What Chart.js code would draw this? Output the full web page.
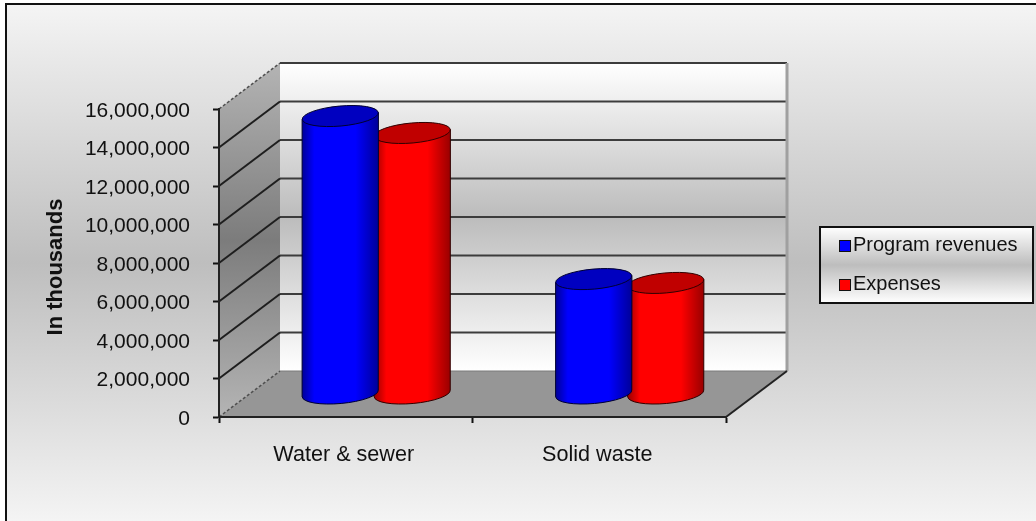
<!DOCTYPE html>
<html>
<head>
<meta charset="utf-8">
<title>Program revenues and expenses</title>
<script src="https://cdn.jsdelivr.net/npm/chart.js@4"></script>
<style>
  html, body { margin: 0; padding: 0; background: #fff; }
  canvas { display: block; }
</style>
</head>
<body>
<canvas id="chart" width="1036" height="521"></canvas>
<script>
const categories = ['Water & sewer', 'Solid waste'];
const programRevenues = [14440000, 5970000];
const expenses = [13560000, 5770000];
const seriesColors = ['#0000ff', '#ff0000'];
const seriesDark = ['#000098', '#980000'];
const seriesTop = ['#0000c0', '#c00000'];
const seriesOutline = ['#000030', '#300000'];

// depth of the box behind the front plane
const depthX = 61;
const depthY = 46;
const textFont = 'Liberation Sans, Arial, sans-serif';

function frontToBack(x, y) {
    return [x + depthX, y - depthY];
}

function line(ctx, x1, y1, x2, y2, color, width) {
    ctx.strokeStyle = color;
    ctx.lineWidth = width;
    ctx.beginPath();
    ctx.moveTo(x1, y1);
    ctx.lineTo(x2, y2);
    ctx.stroke();
}

function greyBands(ctx, top, bottom, edge, middle) {
    const g = ctx.createLinearGradient(0, top, 0, bottom);
    g.addColorStop(0, edge);
    g.addColorStop(0.5, middle);
    g.addColorStop(1, edge);
    return g;
}

// bars drawn as upright cylinders, halfway into the depth of the box
class CylinderController extends Chart.BarController {
    draw() {
        const ctx = this.chart.ctx;
        const index = this.index;
        this.getMeta().data.forEach(function (bar) {
            const cx = bar.x + depthX / 2;
            const topY = bar.y - depthY / 2;
            const baseY = bar.base - depthY / 2;
            const rx = bar.width / 2;
            const ry = 10;
            const tilt = -0.09;
            const dy = Math.sin(tilt) * rx;

            ctx.save();
            const side = ctx.createLinearGradient(cx - rx, 0, cx + rx, 0);
            side.addColorStop(0, seriesDark[index]);
            side.addColorStop(0.16, seriesColors[index]);
            side.addColorStop(0.7, seriesColors[index]);
            side.addColorStop(1, seriesDark[index]);
            ctx.fillStyle = side;
            ctx.strokeStyle = seriesOutline[index];
            ctx.lineWidth = 1;
            ctx.beginPath();
            ctx.moveTo(cx - rx, topY - dy);
            ctx.lineTo(cx - rx, baseY - dy);
            ctx.ellipse(cx, baseY, rx, ry, tilt, Math.PI, 0, true);
            ctx.lineTo(cx + rx, topY + dy);
            ctx.closePath();
            ctx.fill();
            ctx.stroke();
            ctx.fillStyle = seriesTop[index];
            ctx.beginPath();
            ctx.ellipse(cx, topY, rx, ry, tilt, 0, Math.PI * 2);
            ctx.fill();
            ctx.stroke();
            ctx.restore();
        });
    }
}
CylinderController.id = 'cylinder';
CylinderController.defaults = Chart.BarController.defaults;
CylinderController.overrides = Chart.BarController.overrides;
Chart.register(CylinderController);

const boxPlugin = {
    id: 'box',
    beforeDraw(chart) {
        const ctx = chart.ctx;
        const xs = chart.scales.x;
        const ys = chart.scales.y;
        const left = xs.left, right = xs.right;
        const top = ys.top, bottom = ys.bottom;

        ctx.save();
        // page background and frame
        ctx.fillStyle = '#fff';
        ctx.fillRect(0, 0, chart.width, chart.height);
        ctx.fillStyle = greyBands(ctx, 5, 521, '#f4f4f4', '#bebebe');
        ctx.fillRect(6, 5, chart.width - 6, chart.height - 5);
        ctx.fillStyle = '#111';
        ctx.fillRect(5, 3, chart.width - 5, 2);
        ctx.fillRect(5, 3, 2, chart.height - 3);

        const [backLeft, backTop] = frontToBack(left, top);
        const [backRight, backBottom] = frontToBack(right, bottom);

        // back wall
        ctx.fillStyle = greyBands(ctx, backTop, backBottom, '#ffffff', '#bcbcbc');
        ctx.fillRect(backLeft, backTop, backRight - backLeft, backBottom - backTop);

        // side wall
        ctx.fillStyle = greyBands(ctx, top - depthY, bottom, '#b4b4b4', '#7c7c7c');
        ctx.beginPath();
        ctx.moveTo(left, top);
        ctx.lineTo(backLeft, backTop);
        ctx.lineTo(backLeft, backBottom);
        ctx.lineTo(left, bottom);
        ctx.closePath();
        ctx.fill();

        // floor
        ctx.fillStyle = '#969696';
        ctx.beginPath();
        ctx.moveTo(left, bottom);
        ctx.lineTo(right, bottom);
        ctx.lineTo(backRight, backBottom);
        ctx.lineTo(backLeft, backBottom);
        ctx.closePath();
        ctx.fill();

        // gridlines wrap from the axis over the side wall onto the back wall
        ys.ticks.forEach(function (t) {
            const y = ys.getPixelForValue(t.value);
            const isEdge = t.value === ys.min || t.value === ys.max;
            if (t.value !== ys.min) {
                line(ctx, backLeft, y - depthY, backRight, y - depthY, '#3c3c3c', 2.2);
            }
            ctx.setLineDash(isEdge ? [3, 2] : []);
            line(ctx, left, y, backLeft, y - depthY, isEdge ? '#505050' : '#1e1e1e', isEdge ? 1.5 : 2);
            ctx.setLineDash([]);
        });
        line(ctx, backRight, backTop, backRight, backBottom, '#a0a0a0', 3);
        line(ctx, backLeft, backBottom, backRight, backBottom, '#7a7a7a', 1);
        line(ctx, right, bottom, backRight, backBottom, '#222', 2);
        ctx.restore();
    },
    afterDraw(chart) {
        const ctx = chart.ctx;
        ctx.save();

        // axis title, centred a little below the middle of the axis
        ctx.fillStyle = '#111';
        ctx.font = 'bold 22px ' + textFont;
        ctx.textAlign = 'center';
        ctx.textBaseline = 'middle';
        ctx.save();
        ctx.translate(56, 267);
        ctx.rotate(-Math.PI / 2);
        ctx.fillText('In thousands', 0, 0);
        ctx.restore();

        // legend box
        const bx = 820, by = 227, bw = 213, bh = 76;
        ctx.fillStyle = greyBands(ctx, by, by + bh, '#ffffff', '#bdbdbd');
        ctx.fillRect(bx, by, bw, bh);
        ctx.strokeStyle = '#111';
        ctx.lineWidth = 2;
        ctx.strokeRect(bx, by, bw, bh);

        ctx.font = '20px ' + textFont;
        ctx.textAlign = 'left';
        ctx.textBaseline = 'alphabetic';
        chart.data.datasets.forEach(function (ds, i) {
            const ly = 251 + i * 39;
            ctx.fillStyle = ds.backgroundColor;
            ctx.fillRect(840, ly - 10, 10, 10);
            ctx.strokeStyle = '#111';
            ctx.lineWidth = 1;
            ctx.strokeRect(839.5, ly - 10.5, 11, 11);
            ctx.fillStyle = '#111';
            ctx.fillText(ds.label, 853, ly);
        });
        ctx.restore();
    }
};

new Chart(document.getElementById('chart'), {
    type: 'cylinder',
    data: {
        labels: categories,
        datasets: [
            { label: 'Program revenues', data: programRevenues, backgroundColor: seriesColors[0], categoryPercentage: 0.568, barPercentage: 1.06, clip: false },
            { label: 'Expenses', data: expenses, backgroundColor: seriesColors[1], categoryPercentage: 0.568, barPercentage: 1.06, clip: false }
        ]
    },
    options: {
        responsive: false,
        animation: false,
        layout: { padding: { left: 0, top: 109, right: 310, bottom: 0 } },
        plugins: {
            legend: { display: false },
            tooltip: { enabled: false }
        },
        scales: {
            x: {
                type: 'category',
                offset: true,
                afterFit: function (s) { s.height = 104; },
                grid: { offset: true, drawOnChartArea: false, tickLength: 6, color: '#111', tickWidth: 2 },
                border: { color: '#222', width: 2 },
                ticks: { color: '#111', padding: 19, labelOffset: -2, maxRotation: 0, autoSkip: false, font: { size: 21.6, family: textFont } }
            },
            y: {
                type: 'linear',
                min: 0,
                max: 16000000,
                afterFit: function (s) { s.width = 219; },
                grid: { drawOnChartArea: false, tickLength: 6, color: '#111', tickWidth: 2 },
                border: { color: '#222', width: 2 },
                ticks: {
                    stepSize: 2000000,
                    color: '#111',
                    padding: 23,
                    labelOffset: 2,
                    font: { size: 21, family: textFont },
                    callback: function (v) { return v.toLocaleString('en-US'); }
                }
            }
        }
    },
    plugins: [boxPlugin]
});
</script>
</body>
</html>
